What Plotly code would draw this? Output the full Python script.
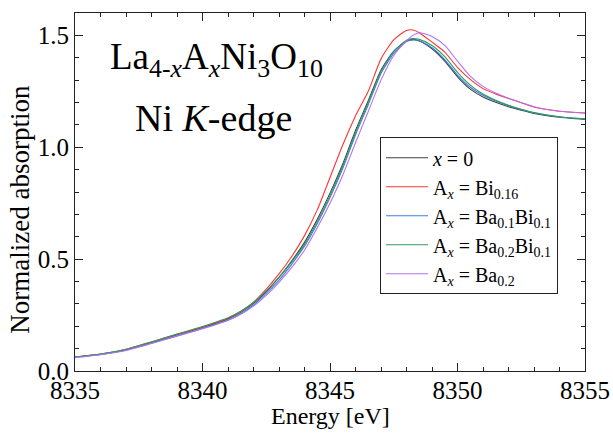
import plotly.graph_objects as go

energy = [8335, 8336, 8337, 8338, 8339, 8340, 8341, 8341.5, 8342, 8342.5, 8343, 8343.5, 8344, 8344.5,
          8345, 8345.5, 8346, 8346.5, 8347, 8347.5, 8348, 8348.25, 8348.5, 8349, 8349.5,
          8350, 8350.5, 8351, 8351.5, 8352, 8352.5, 8353, 8354, 8355]

x0 = [0.063, 0.075, 0.095, 0.127, 0.161, 0.194, 0.233, 0.262, 0.302, 0.355, 0.418, 0.492, 0.575, 0.678,
      0.795, 0.925, 1.075, 1.208, 1.345, 1.430, 1.475, 1.481, 1.475, 1.440, 1.385,
      1.315, 1.260, 1.225, 1.201, 1.181, 1.165, 1.151, 1.134, 1.124]
bi016 = [0.063, 0.076, 0.097, 0.130, 0.164, 0.197, 0.236, 0.266, 0.308, 0.366, 0.434, 0.512, 0.605, 0.720,
         0.865, 1.010, 1.140, 1.250, 1.395, 1.480, 1.522, 1.524, 1.512, 1.470, 1.425,
         1.357, 1.303, 1.262, 1.238, 1.218, 1.199, 1.180, 1.161, 1.153]
ba01bi01 = [0.062, 0.074, 0.093, 0.124, 0.157, 0.190, 0.228, 0.256, 0.295, 0.347, 0.406, 0.478, 0.558, 0.658,
            0.775, 0.905, 1.055, 1.190, 1.330, 1.420, 1.472, 1.480, 1.476, 1.445, 1.392,
            1.322, 1.268, 1.232, 1.207, 1.186, 1.169, 1.154, 1.135, 1.127]
ba02bi01 = [0.063, 0.076, 0.097, 0.130, 0.165, 0.199, 0.238, 0.267, 0.306, 0.358, 0.419, 0.488, 0.566, 0.668,
            0.785, 0.915, 1.065, 1.200, 1.340, 1.428, 1.478, 1.486, 1.482, 1.455, 1.405,
            1.335, 1.278, 1.238, 1.210, 1.188, 1.170, 1.155, 1.136, 1.126]
ba02 = [0.060, 0.073, 0.092, 0.123, 0.156, 0.189, 0.226, 0.253, 0.290, 0.338, 0.396, 0.463, 0.540, 0.640,
        0.750, 0.875, 1.020, 1.160, 1.300, 1.410, 1.475, 1.500, 1.512, 1.495, 1.455,
        1.385, 1.318, 1.272, 1.242, 1.219, 1.200, 1.181, 1.161, 1.153]

series = [
    ("<i>x</i> = 0", x0, "#404040"),
    ("A<sub><i>x</i></sub> = Bi<sub>0.16</sub>", bi016, "#ff3535"),
    ("A<sub><i>x</i></sub> = Ba<sub>0.1</sub>Bi<sub>0.1</sub>", ba01bi01, "#3d7be0"),
    ("A<sub><i>x</i></sub> = Ba<sub>0.2</sub>Bi<sub>0.1</sub>", ba02bi01, "#2e9c5c"),
    ("A<sub><i>x</i></sub> = Ba<sub>0.2</sub>", ba02, "#b272ee"),
]

FONT = "Liberation Serif, Times New Roman, serif"

fig = go.Figure()
for name, vals, col in series:
    fig.add_trace(go.Scatter(x=energy, y=vals, mode="lines", name=name,
                             line=dict(color=col, width=1.1, shape="spline", smoothing=0.6)))

axis_common = dict(showline=True, linecolor="#222", linewidth=1.2, mirror="ticks",
                   ticks="inside", ticklen=8, tickwidth=1.2, tickcolor="#222",
                   showgrid=False, zeroline=False, automargin=False,
                   tickfont=dict(family=FONT, size=25, color="black"))

fig.update_xaxes(range=[8335, 8355], dtick=5, tick0=8335, ticklabelstandoff=-3,
                 minor=dict(ticks="inside", dtick=1, ticklen=4, tickcolor="#222"),
                 **axis_common)
fig.update_yaxes(range=[0, 1.6], dtick=0.5, tick0=0, tickformat=".1f",
                 minor=dict(ticks="inside", dtick=0.1, ticklen=4, tickcolor="#222"),
                 **axis_common)

fig.add_annotation(text="Energy [eV]",
                   x=0.5, y=-0.125, xref="paper", yref="paper", showarrow=False,
                   xanchor="center", yanchor="middle",
                   font=dict(family=FONT, size=24, color="black"))
fig.add_annotation(text="Normalized absorption", textangle=-90,
                   x=-0.108, y=0.453, xref="paper", yref="paper", showarrow=False,
                   xanchor="center", yanchor="middle",
                   font=dict(family=FONT, size=27, color="black"))
fig.add_annotation(text="La<sub>4-<i>x</i></sub>A<sub><i>x</i></sub>Ni<sub>3</sub>O<sub>10</sub>",
                   x=0.277, y=0.942, xref="paper", yref="paper", showarrow=False,
                   xanchor="center", yanchor="top",
                   font=dict(family=FONT, size=37, color="black"))
fig.add_annotation(text="Ni <i>K</i>-edge",
                   x=0.271, y=0.771, xref="paper", yref="paper", showarrow=False,
                   xanchor="center", yanchor="top",
                   font=dict(family=FONT, size=38, color="black"))

fig.update_layout(
    width=613, height=436, autosize=False,
    margin=dict(l=75, r=28, t=13, b=65),
    plot_bgcolor="white", paper_bgcolor="white",
    showlegend=True,
    legend=dict(x=0.598, y=0.653, xanchor="left", yanchor="top",
                bordercolor="#222", borderwidth=1, bgcolor="white",
                font=dict(family=FONT, size=20, color="black"),
                tracegroupgap=0, itemwidth=42),
)

fig.write_html("out.html",
               config={"displayModeBar": False, "responsive": False},
               post_script="document.body.style.margin='0';document.body.style.overflow='hidden';")
